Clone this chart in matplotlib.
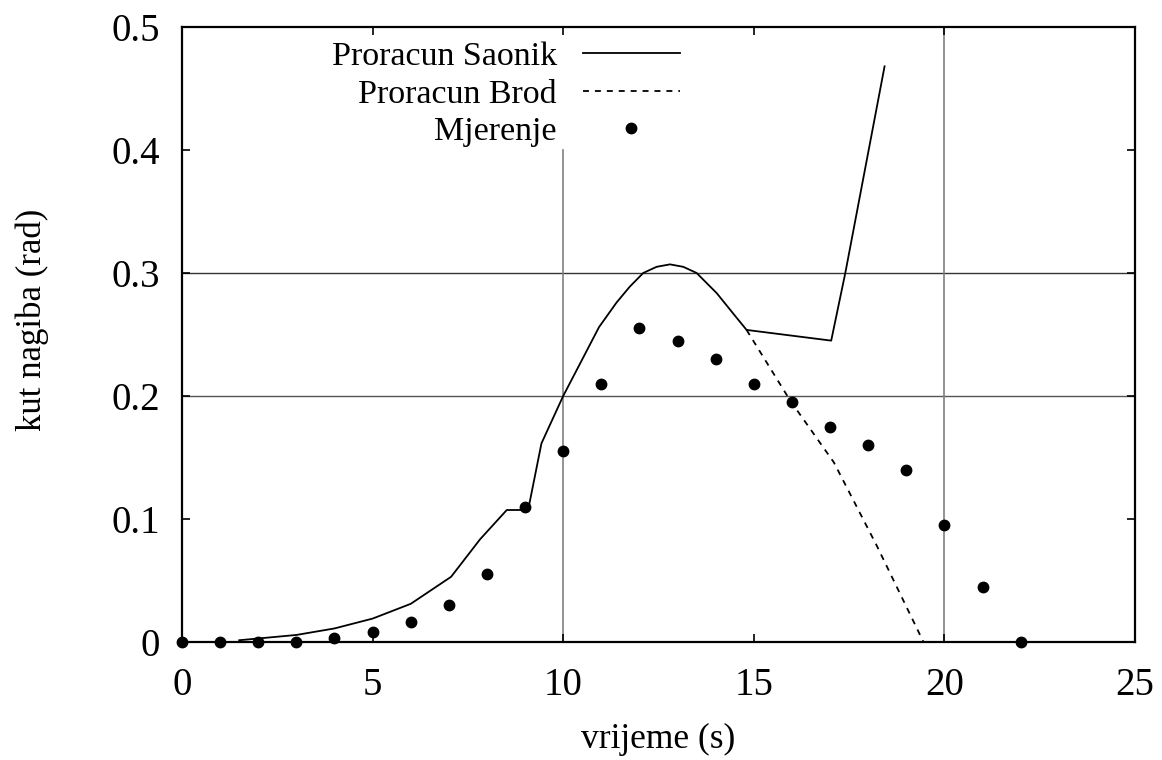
import matplotlib
matplotlib.use("Agg")
import matplotlib.pyplot as plt
from matplotlib.ticker import FuncFormatter

plt.rcParams['font.family'] = ['Liberation Serif', 'DejaVu Serif']

# Proracun Saonik (solid)
saonik_t = [1.5, 3.0, 4.0, 5.0, 6.0, 7.06, 7.82, 8.52, 9.08, 9.43, 10.0, 10.42, 10.94,
            11.4, 11.75, 12.1, 12.45, 12.8, 13.15, 13.5, 14.03, 14.46, 14.81, 17.03, 17.4, 18.43]
saonik_y = [0.0014, 0.0057, 0.011, 0.019, 0.031, 0.053, 0.0835, 0.1073, 0.1073, 0.1615, 0.2, 0.225, 0.256,
            0.276, 0.289, 0.300, 0.305, 0.307, 0.305, 0.300, 0.2835, 0.267, 0.2537, 0.245, 0.300, 0.468]

# Proracun Brod (dashed, continues after the kink)
brod_t = [14.81, 15.96, 17.1, 18.23, 19.45]
brod_y = [0.2537, 0.196, 0.146, 0.078, 0.0]

# Mjerenje (points)
mjer_t = list(range(23))
mjer_y = [0, 0, 0, 0, 0.003, 0.008, 0.016, 0.03, 0.055, 0.11, 0.155, 0.21,
          0.255, 0.245, 0.23, 0.21, 0.195, 0.175, 0.16, 0.14, 0.095, 0.045, 0]

fig = plt.figure(figsize=(11.62, 7.6), dpi=100)
ax = fig.add_axes([0.1566, 0.1553, 0.8202, 0.8092])

# partial grid like the original
ax.axhline(0.2, color='#555555', lw=1.0, zorder=1)
ax.axhline(0.3, color='#333333', lw=1.0, zorder=1)
ax.axvline(10, ymin=0, ymax=0.8, color='#808080', lw=1.2, zorder=1)
ax.axvline(20, color='#808080', lw=1.2, zorder=1)

ax.plot(saonik_t, saonik_y, '-', color='black', lw=1.3, label='Proracun Saonik', zorder=3)
ax.plot(brod_t, brod_y, color='black', lw=1.3, ls=(0, (3.3, 3.3)), label='Proracun Brod', zorder=3)
ax.plot(mjer_t, mjer_y, 'o', color='black', ms=7.5, ls='none', label='Mjerenje', clip_on=False, zorder=4)

ax.set_xlim(0, 25)
ax.set_ylim(0, 0.5)
ax.set_xticks([0, 5, 10, 15, 20, 25])
ax.set_yticks([0, 0.1, 0.2, 0.3, 0.4, 0.5])
ax.yaxis.set_major_formatter(FuncFormatter(lambda v, p: '0' if abs(v) < 1e-9 else f'{v:.1f}'))
ax.tick_params(direction='in', top=True, right=True, labelsize=28, length=6, width=1.2)
ax.tick_params(axis='x', pad=18)
ax.tick_params(axis='y', pad=16)

for s in ax.spines.values():
    s.set_linewidth(1.6)

ax.set_xlabel('vrijeme (s)', fontsize=25.5, va='baseline')
ax.xaxis.set_label_coords(0.5, -0.1724)
ax.set_ylabel('kut nagiba (rad)', fontsize=25)
ax.yaxis.set_label_coords(-0.1396, 0.5236)

ax.legend(loc='upper right', bbox_to_anchor=(0.533, 0.993), frameon=False, markerfirst=False,
          fontsize=24.5, handlelength=2.85, handletextpad=0.76, labelspacing=0.19,
          borderpad=0.3, borderaxespad=0, numpoints=1)

fig.savefig('out.png', dpi=100)
